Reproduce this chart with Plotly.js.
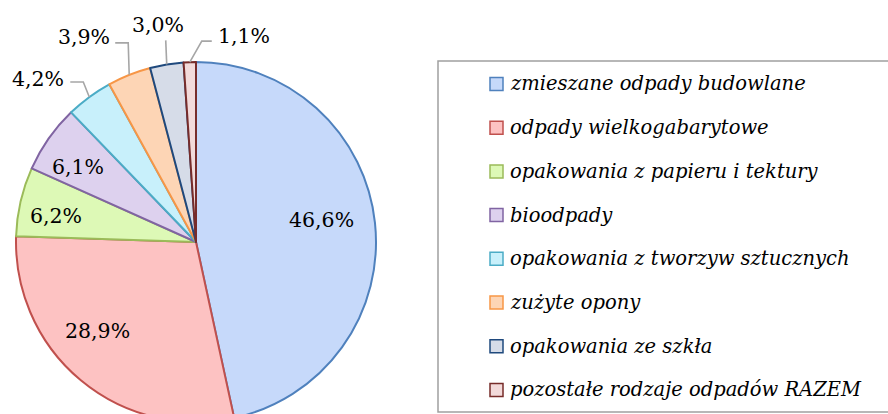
<!DOCTYPE html>
<html>
<head>
<meta charset="utf-8">
<script src="https://cdn.plot.ly/plotly-3.0.1.min.js"></script>
<style>
html,body{margin:0;padding:0;overflow:hidden;background:#fff;}
#chart{width:888px;height:430px;}
</style>
</head>
<body>
<div id="chart"></div>
<script>
// ---- data ----
const categories = [
  "zmieszane odpady budowlane",
  "odpady wielkogabarytowe",
  "opakowania z papieru i tektury",
  "bioodpady",
  "opakowania z tworzyw sztucznych",
  "zużyte opony",
  "opakowania ze szkła",
  "pozostałe rodzaje odpadów RAZEM"
];
const shares = [46.6, 28.9, 6.2, 6.1, 4.2, 3.9, 3.0, 1.1];
const fillColors = ["#c6d9fa", "#fdc2c2", "#ddf9b6", "#ddd1ee", "#c8f0fb", "#fdd5b5", "#d6dce8", "#f2dada"];
const lineColors = ["#4f81bd", "#c0504d", "#9bbb59", "#8064a2", "#4bacc6", "#f79646", "#1f497d", "#772c2a"];

// ---- layout helpers ----
const W = 888, H = 430;
const CX = 196, CY = 242, R = 180;
const X = p => p / W;
const Y = p => 1 - p / H;
const FONT = "DejaVu Serif, Liberation Serif, serif";

const fmt = v => v.toFixed(1).replace('.', ',') + '%';
const total = shares.reduce((a, b) => a + b, 0);
let cum = 0;
const midAngles = shares.map(v => { const m = (cum + v / 2) / total * 360; cum += v; return m; });
const polar = (deg, r) => [CX + r * Math.sin(deg * Math.PI / 180), CY - r * Math.cos(deg * Math.PI / 180)];

// label placement: inside labels [angle offset, radial factor]; outside labels offsets from slice edge
const inside = {0: [-3.8, 0.71], 1: [8, 0.736], 2: [-2.5, 0.79], 3: [-2.7, 0.777]};
const outside = {
  4: {elbow: [-6, -15], end: [-19, -15], label: [-51, -18]},
  5: {elbow: [-1, -32], end: [-14, -32], label: [-45, -38]},
  6: {elbow: [-1, -24], end: [-1, -24], label: [-9, -39]},
  7: {elbow: [12, -21], end: [22, -21], label: [54, -26]}
};

const annotations = [];
const shapes = [];
shares.forEach((v, i) => {
  if (inside[i]) {
    const [dA, rf] = inside[i];
    const [x, y] = polar(midAngles[i] + dA, R * rf);
    annotations.push({x: X(x), y: Y(y), xref: 'paper', yref: 'paper', text: fmt(v), showarrow: false,
      xanchor: 'center', yanchor: 'middle', font: {family: FONT, size: 20.5, color: '#000'}});
  } else if (outside[i]) {
    const o = outside[i];
    const [ex, ey] = polar(midAngles[i], R);
    const p1 = [ex + o.elbow[0], ey + o.elbow[1]];
    const p2 = [ex + o.end[0], ey + o.end[1]];
    shapes.push({type: 'path', xref: 'paper', yref: 'paper',
      path: `M ${X(ex)} ${Y(ey)} L ${X(p1[0])} ${Y(p1[1])} L ${X(p2[0])} ${Y(p2[1])}`,
      line: {color: '#a6a6a6', width: 1.6}});
    annotations.push({x: X(ex + o.label[0]), y: Y(ey + o.label[1]), xref: 'paper', yref: 'paper', text: fmt(v),
      showarrow: false, xanchor: 'center', yanchor: 'middle', font: {family: FONT, size: 20.5, color: '#000'}});
  }
});

// legend box
shapes.push({type: 'rect', xref: 'paper', yref: 'paper', x0: X(438), x1: X(900), y0: Y(412), y1: Y(61),
  line: {color: '#a0a0a0', width: 1.5}, fillcolor: 'rgba(0,0,0,0)'});
const LEG_Y0 = 84, LEG_DY = 43.7;
categories.forEach((c, i) => {
  const yc = LEG_Y0 + i * LEG_DY;
  shapes.push({type: 'rect', xref: 'paper', yref: 'paper', x0: X(490), x1: X(503), y0: Y(yc + 6.5), y1: Y(yc - 6.5),
    fillcolor: fillColors[i], line: {color: lineColors[i], width: 1.5}});
  annotations.push({x: X(508), y: Y(yc), xref: 'paper', yref: 'paper', text: c, showarrow: false,
    xanchor: 'left', yanchor: 'middle', font: {family: FONT, size: 19.5, color: '#000', style: 'italic'}});
});

const trace = {
  type: 'pie',
  labels: categories,
  values: shares,
  sort: false,
  direction: 'clockwise',
  rotation: 0,
  textinfo: 'none',
  hoverinfo: 'label+percent',
  marker: {colors: fillColors, line: {color: lineColors, width: 2}},
  domain: {x: [X(16), X(376)], y: [Y(422), Y(62)]},
  showlegend: false
};

Plotly.newPlot('chart', [trace], {
  width: W, height: H,
  margin: {l: 0, r: 0, t: 0, b: 0},
  paper_bgcolor: '#fff',
  showlegend: false,
  annotations: annotations,
  shapes: shapes
}, {staticPlot: true});
</script>
</body>
</html>
